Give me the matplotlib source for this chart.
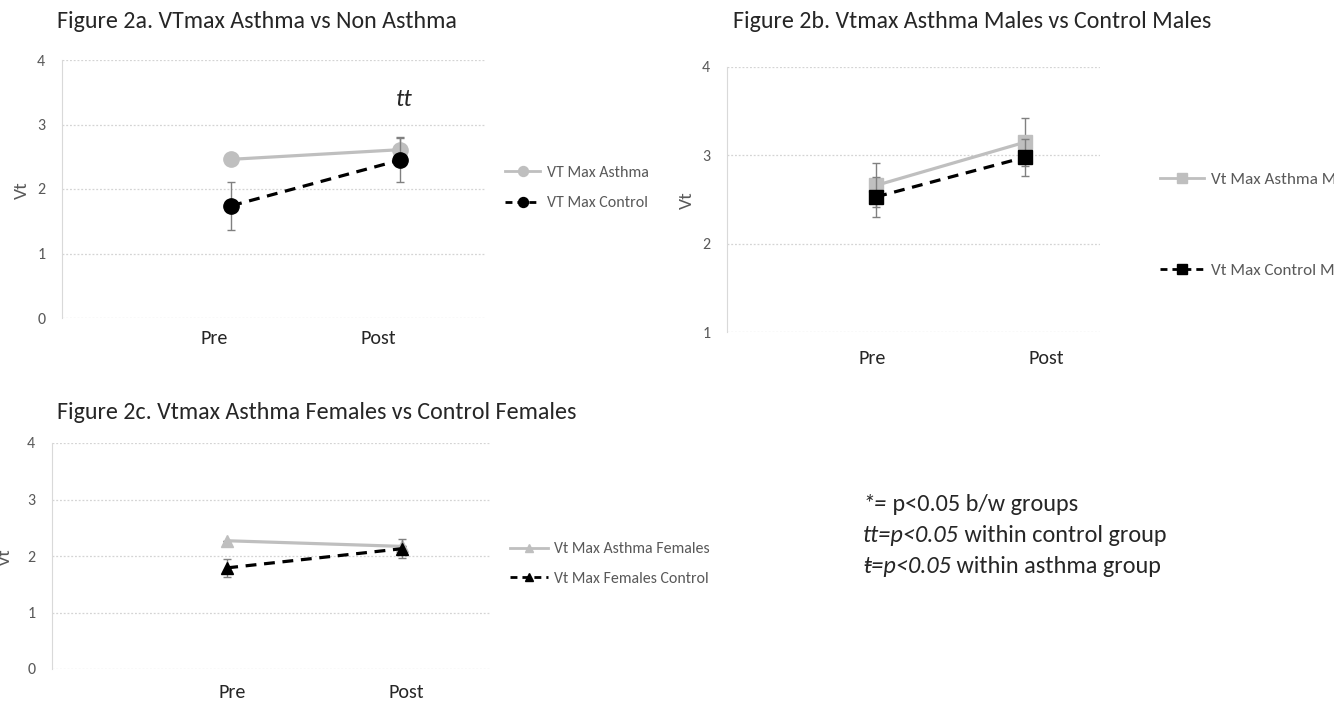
from __future__ import annotations

import matplotlib

matplotlib.use("Agg")
import matplotlib.pyplot as plt
from matplotlib.lines import Line2D

plt.rcParams["font.family"] = ["Carlito", "Lato", "DejaVu Sans"]

W, H = 1334, 705

PHASES = ["Pre", "Post"]

# Figure 2a: all subjects
A_ASTHMA = [2.46, 2.61]
A_ASTHMA_ERR = [0.0, 0.20]
A_CONTROL = [1.74, 2.45]
A_CONTROL_ERR = [0.37, 0.34]
A_LEGEND = ["VT Max Asthma", "VT Max Control"]

# Figure 2b: males
B_ASTHMA = [2.66, 3.15]
B_ASTHMA_ERR = [0.25, 0.27]
B_CONTROL = [2.53, 2.98]
B_CONTROL_ERR = [0.23, 0.21]
B_LEGEND = ["Vt Max Asthma Males", "Vt Max Control Males"]

# Figure 2c: females
C_ASTHMA = [2.27, 2.17]
C_ASTHMA_ERR = [0.0, 0.0]
C_CONTROL = [1.79, 2.13]
C_CONTROL_ERR = [0.16, 0.17]
C_LEGEND = ["Vt Max Asthma Females", "Vt Max Females Control"]

NOTES = [
    ("*=", " p<0.05 b/w groups"),
    ("tt=p<0.05", " within control group"),
    ("\u0167=p<0.05", " within asthma group"),
]

ASTHMA_COLOR = "#bfbfbf"
CONTROL_COLOR = "#000000"
ERR_COLOR = "#808080"
TICK_COLOR = "#595959"
TEXT_COLOR = "#262626"
GRID_COLOR = "#d4d4d4"
DASH = (0, (3.4, 2.4))


def px(x: float, y: float) -> tuple[float, float]:
    return x / W, 1 - y / H


def rect(left: float, top: float, right: float, bottom: float) -> list[float]:
    return [left / W, 1 - bottom / H, (right - left) / W, (bottom - top) / H]


def draw_panel(fig, box, title, title_xy, asthma, asthma_err, control, control_err,
               legend_labels, legend_xy, legend_gap, legend_size, handle_len, marker, ms,
               ylim, label_x, label_pad, ylabel_xy):
    ax = fig.add_axes(box)
    x = list(range(len(PHASES)))

    ax.errorbar(x, asthma, yerr=asthma_err, color=ASTHMA_COLOR, lw=2.3, marker=marker,
                ms=ms, mfc=ASTHMA_COLOR, mec=ASTHMA_COLOR, ecolor=ERR_COLOR,
                elinewidth=1, capsize=3, capthick=1, zorder=3)
    ax.errorbar(x, control, yerr=control_err, color=CONTROL_COLOR, lw=2.3, ls=DASH,
                marker=marker, ms=ms, mfc=CONTROL_COLOR, mec=CONTROL_COLOR,
                ecolor=ERR_COLOR, elinewidth=1, capsize=3, capthick=1, zorder=4)

    ax.set_xlim(-1.0, 1.5)
    ax.set_ylim(*ylim)
    ax.set_yticks(range(int(ylim[0]), int(ylim[1]) + 1))
    ax.set_xticks(label_x, PHASES)
    ax.tick_params(axis="y", length=0, pad=12, labelsize=11.5, labelcolor=TICK_COLOR)
    ax.tick_params(axis="x", length=0, pad=label_pad, labelsize=14.5, labelcolor=TEXT_COLOR)
    ax.grid(axis="y", color=GRID_COLOR, ls=(0, (1.5, 1.5)), lw=0.9)
    ax.set_axisbelow(True)
    for side in ("top", "right", "bottom"):
        ax.spines[side].set_visible(False)
    ax.spines["left"].set_color("#d9d9d9")

    fig.text(*px(*title_xy), title, fontsize=17.3, color=TEXT_COLOR, ha="left", va="center")
    fig.text(*px(*ylabel_xy), "Vt", fontsize=14, color=TICK_COLOR, rotation=90,
             ha="center", va="center")

    handles = [
        Line2D([], [], color=ASTHMA_COLOR, lw=2, marker=marker, ms=ms * 0.65,
               mfc=ASTHMA_COLOR, mec=ASTHMA_COLOR),
        Line2D([], [], color=CONTROL_COLOR, lw=2, ls=(0, (2.5, 1.8)), marker=marker,
               ms=ms * 0.65, mfc=CONTROL_COLOR, mec=CONTROL_COLOR),
    ]
    fig.legend(handles, legend_labels, loc="center left", bbox_to_anchor=px(*legend_xy),
               frameon=False, fontsize=legend_size, labelcolor=TICK_COLOR, borderpad=0,
               borderaxespad=0, handlelength=handle_len, handletextpad=0.4,
               labelspacing=legend_gap)
    return ax


def main() -> None:
    fig = plt.figure(figsize=(W / 100, H / 100), dpi=100)

    ax_a = draw_panel(fig, rect(62, 60, 485, 318), "Figure 2a. VTmax Asthma vs Non Asthma",
                      (57, 22), A_ASTHMA, A_ASTHMA_ERR, A_CONTROL, A_CONTROL_ERR,
                      A_LEGEND, (505, 188), 1.0, 11.5, 2.2, "o", 11, (0, 4), [-0.1, 0.87],
                      9, (22, 190))
    ax_a.text(1.02, 3.38, "tt", fontsize=18, style="italic", color=TEXT_COLOR,
              ha="center", va="center")

    draw_panel(fig, rect(727, 67, 1100, 332), "Figure 2b. Vtmax Asthma Males vs Control Males",
               (733, 22), B_ASTHMA, B_ASTHMA_ERR, B_CONTROL, B_CONTROL_ERR,
               B_LEGEND, (1160, 225), 4.5, 12.3, 2.6, "s", 10, (1, 4), [-0.03, 1.14],
               13, (687, 200))

    draw_panel(fig, rect(52, 443, 490, 669),
               "Figure 2c. Vtmax Asthma Females vs Control Females",
               (57, 413), C_ASTHMA, C_ASTHMA_ERR, C_CONTROL, C_CONTROL_ERR,
               C_LEGEND, (510, 564), 1.0, 11.4, 2.4, "^", 9, (0, 4), [0.03, 1.02],
               11, (5, 557))

    # significance key: italic symbol part followed by upright text
    note_size = 17.5
    for i, (sym, rest) in enumerate(NOTES):
        base = px(863, 511 + 31 * i)
        first = fig.text(*base, sym, fontsize=note_size, color=TEXT_COLOR,
                         style="italic", va="baseline")
        plt.annotate(rest, xy=(1, 0), xycoords=first, fontsize=note_size,
                     color=TEXT_COLOR, va="bottom", ha="left", annotation_clip=False)

    fig.savefig("out.png", dpi=100)
    plt.close(fig)


if __name__ == "__main__":
    main()
